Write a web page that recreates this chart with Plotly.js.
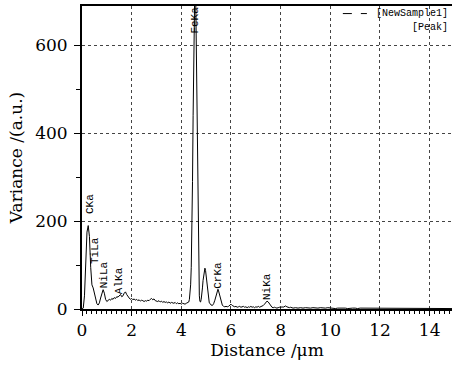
<!DOCTYPE html>
<html><head><meta charset="utf-8">
<script src="https://cdn.plot.ly/plotly-3.0.1.min.js"></script>
<style>html,body{margin:0;padding:0;background:#fff}#c{width:452px;height:367px}</style>
</head><body><div id="c"></div>
<script>
const distance = [
0,0.05,0.1,0.15,0.2,0.25,0.3,0.35,0.4,0.45,0.5,0.55,0.6,0.65,0.7,0.75,0.8,0.85,0.9,0.95,
1.0,1.05,1.1,1.15,1.2,1.25,1.3,1.35,1.4,1.45,1.5,1.55,1.6,1.65,1.7,1.75,1.8,1.85,1.9,1.95,
2.0,2.05,2.1,2.15,2.2,2.25,2.3,2.35,2.4,2.45,2.5,2.55,2.6,2.65,2.7,2.75,2.8,2.85,2.9,2.95,
3.0,3.05,3.1,3.15,3.2,3.25,3.3,3.35,3.4,3.45,3.5,3.55,3.6,3.65,3.7,3.75,3.8,3.85,3.9,3.95,
4.0,4.05,4.1,4.15,4.2,4.25,4.3,4.325,4.35,4.375,4.4,4.425,4.45,4.475,4.5,4.525,4.55,4.575,4.6,4.625,
4.65,4.675,4.7,4.725,4.75,4.775,4.8,4.825,4.85,4.875,4.9,4.925,4.95,4.975,5.0,5.025,5.05,5.075,5.1,5.125,
5.15,5.2,5.25,5.3,5.35,5.4,5.45,5.475,5.5,5.55,5.6,5.65,5.7,5.75,5.8,5.85,5.9,5.95,6.0,6.05,
6.1,6.15,6.2,6.25,6.3,6.35,6.4,6.45,6.5,6.55,6.6,6.65,6.7,6.75,6.8,6.85,6.9,6.95,7.0,7.05,
7.1,7.15,7.2,7.25,7.3,7.35,7.4,7.45,7.5,7.55,7.6,7.65,7.7,7.75,7.8,7.85,7.9,7.95,8.0,8.05,
8.1,8.15,8.2,8.25,8.3,8.35,8.4,8.45,8.5,8.6,8.7,8.8,8.9,9.0,9.1,9.2,9.3,9.4,9.5,9.6,
9.7,9.8,9.9,10.0,10.1,10.2,10.3,10.4,10.5,10.6,10.7,10.8,10.9,11.0,11.1,11.2,11.3,11.4,11.5,11.6,
11.7,11.8,11.9,12.0,12.1,12.2,12.3,12.4,12.5,12.6,12.7,12.8,12.9,13.0,13.1,13.2,13.3,13.4,13.5,13.6,
13.7,13.8,13.9,14.0,14.1,14.2,14.3,14.4,14.5,14.6,14.7,14.8,14.9
];
const variance = [
0,2,30,110,175,190,165,95,55,48,38,24,12,9,14,25,38,44,36,22,
17,19,22,20,24,22,26,24,28,27,31,33,28,30,36,39,33,27,25,22,
24,21,23,20,22,19,21,18,20,19,17,19,18,20,19,22,24,21,23,19,
18,17,19,16,18,15,17,15,16,14,16,13,15,14,13,15,12,14,12,13,
11,13,12,11,13,14,16,22,34,55,95,170,290,440,600,720,770,730,610,450,
290,160,75,30,17,16,22,32,48,65,80,90,93,88,75,58,40,27,18,14,
13,9,8,12,20,32,42,45,41,28,16,9,6,5,6,5,6,9,11,8,
6,5,6,4,5,6,4,5,6,4,5,3,5,4,6,4,5,3,5,4,
6,4,5,6,8,11,15,18,16,11,6,4,3,4,3,2,3,4,3,5,
4,6,7,5,4,3,4,3,2,3,2,3,2,3,2,2,3,2,2,3,
2,2,3,2,2,1,2,2,3,2,1,2,2,2,1,2,2,1,2,2,
1,2,2,1,2,1,2,2,1,2,1,2,1,1,2,1,2,1,1,2,
1,1,2,1,1,1,2,1,1,1,1,2,1
];
const peakLabels = ["CKa","TiLa","NiLa","AlKa","FeKa","CrKa","NiKa"];
const peakX = [0.32,0.52,0.89,1.5,4.55,5.5,7.45];
const peakY = [239,134,77,64,659,77,50];
const xTickVals = [0,2,4,6,8,10,12,14];
const yTickVals = [0,200,400,600];

const annotations = peakLabels.map((t,i)=>({
  x: peakX[i], y: peakY[i], xref:'x', yref:'y', text: t, showarrow:false,
  textangle:-90, xanchor:'center', yanchor:'middle',
  font:{family:'Liberation Mono, monospace', size:11, color:'#000'}
}));
annotations.push({xref:'paper',yref:'paper',x:0.995,y:0.975,text:'[NewSample1]',showarrow:false,
  xanchor:'right',yanchor:'middle',font:{family:'Liberation Mono, monospace',size:10,color:'#000'}});
annotations.push({xref:'paper',yref:'paper',x:0.995,y:0.93,text:'[Peak]',showarrow:false,
  xanchor:'right',yanchor:'middle',font:{family:'Liberation Mono, monospace',size:10,color:'#000'}});

const serif = 'DejaVu Serif, Liberation Serif, serif';
Plotly.newPlot('c', [{
  x: distance, y: variance, type:'scatter', mode:'lines',
  line:{color:'#000', width:1}, showlegend:false, hoverinfo:'skip'
}], {
  width:452, height:367,
  margin:{l:82, r:0, t:6, b:58},
  paper_bgcolor:'#fff', plot_bgcolor:'#fff',
  showlegend:false,
  xaxis:{
    range:[0,14.9], tickvals:xTickVals, ticks:'outside', ticklen:5, tickwidth:1, tickcolor:'#000',
    showline:true, linecolor:'#000', linewidth:2, mirror:true,
    showgrid:true, gridcolor:'#444', griddash:'dot', gridwidth:1, zeroline:false,
    minor:{dtick:0.2, ticks:'outside', ticklen:3, tickcolor:'#000', showgrid:false},
    tickfont:{family:serif, size:17, color:'#000'},
    title:{text:'Distance /μm', font:{family:serif, size:17, color:'#000'}, standoff:4}
  },
  yaxis:{
    range:[0,690], tickvals:yTickVals, ticks:'outside', ticklen:6, tickwidth:1, tickcolor:'#000',
    showline:true, linecolor:'#000', linewidth:2, mirror:false,
    showgrid:true, gridcolor:'#444', griddash:'dot', gridwidth:1, zeroline:false,
    minor:{dtick:100, ticks:'outside', ticklen:4, tickcolor:'#000', showgrid:false},
    tickfont:{family:serif, size:17, color:'#000'}, ticklabelstandoff:3,
    title:{text:'Variance /(a.u.)', font:{family:serif, size:17, color:'#000'}, standoff:8}
  },
  shapes:[{type:'line', xref:'paper', yref:'paper', x0:0.705, x1:0.77, y0:0.975, y1:0.975,
    line:{color:'#000', width:1, dash:'dash'}}],
  annotations: annotations
}, {displayModeBar:false, staticPlot:true});
</script></body></html>
